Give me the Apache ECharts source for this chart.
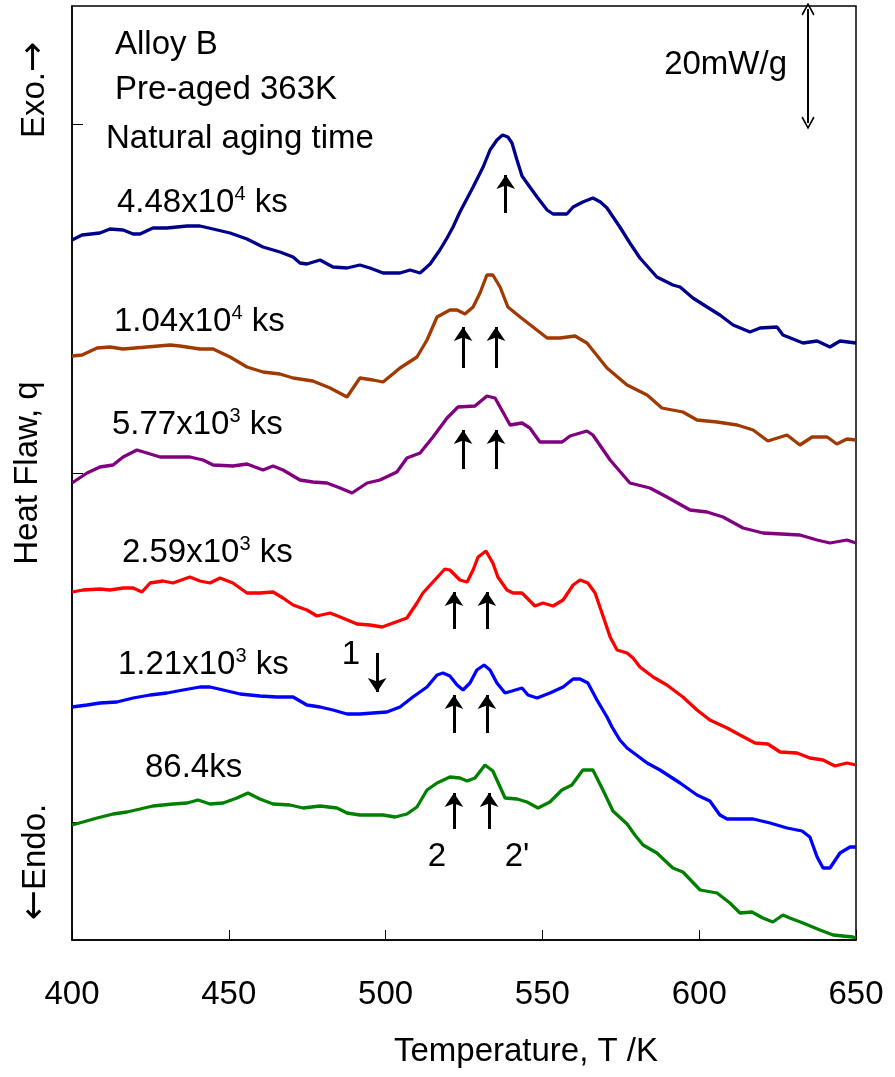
<!DOCTYPE html>
<html><head><meta charset="utf-8">
<script src="https://cdn.jsdelivr.net/npm/echarts@6/dist/echarts.min.js"></script>
<style>html,body{margin:0;padding:0;background:#fff}#c{width:895px;height:1077px}</style>
</head><body><div id="c"></div>
<script>
// Heat flow in arbitrary units (a.u.), curves offset as in the original figure
const xTicks = [400, 450, 500, 550, 600, 650];
const yTickValues = [118, 467, 816];
const seriesNames = ['4.48x10^4 ks', '1.04x10^4 ks', '5.77x10^3 ks', '2.59x10^3 ks', '1.21x10^3 ks', '86.4ks'];
const seriesColors = ['#00008b', '#a03a02', '#800080', '#ff0000', '#0000ff', '#008000'];

const na44800 = [[400,700],[403.2,705],[408.9,707],[412.1,711],[416.3,710],[419.5,706],[421.7,706],[425.8,712],[430.3,712],[436.7,714],[440.8,714],[445,711],[450.4,707],[455.8,701],[460.9,693],[466.3,688],[470.5,683],[472.7,677],[474.9,676],[479.1,680],[483.2,673],[487.7,672],[491.8,675],[495,672],[499.2,667],[504.6,667],[507.8,670],[511,667],[514.2,676],[517.3,690],[519.6,702],[521.5,713],[523.7,728],[527.9,753],[531.1,773],[533.3,790],[535.5,800],[537.3,805],[539,803],[540.3,797],[541.9,780],[543.5,764],[546,753],[548.3,743],[551.5,730],[553.4,726],[557.8,726],[559.8,733],[562.9,738],[566.1,742],[568.5,738],[570.6,732],[574.7,713],[577.9,697],[581.1,682],[586.5,663],[591.6,655],[593.9,653],[598,642],[602.5,633],[606.6,625],[610.8,615],[616.2,608],[619.4,612],[624.8,613],[626.7,605],[633.1,597],[637.6,599],[641.7,593],[644.9,599],[650,597]];

const na10400 = [[400,584],[403.2,585],[408,592],[412.1,593],[416.3,591],[423.9,593],[431.3,595],[434.4,594],[440.8,591],[445,591],[450.4,583],[455.8,573],[460.9,568],[466.3,566],[470.5,562],[476.8,559],[482.3,552],[487.7,543],[491.8,562],[496,560],[499.2,558],[504.6,572],[510,583],[513.2,600],[516.4,623],[520.5,630],[522.8,630],[525.3,626],[527.9,633],[530.1,647],[532.3,665],[534.2,665],[536.5,653],[539,633],[542.9,623],[547,613],[551.5,602],[555.6,602],[560.4,604],[564.2,597],[570.6,572],[577,555],[583.4,545],[588.1,532],[594.8,528],[599.3,520],[605.7,518],[612.1,515],[617.2,510],[621.9,499],[628,505],[632.1,495],[636,503],[640.8,503],[643.9,496],[647.1,501],[650,500]];

const na5770 = [[400,457],[404.8,467],[408.9,473],[413.1,475],[416.3,483],[420.7,490],[423.9,487],[428.1,483],[433.5,483],[437.6,483],[441.8,480],[445,475],[451.3,474],[455.8,476],[460.9,470],[464.1,474],[467.3,470],[472.7,460],[476.8,458],[481.3,457],[485.5,452],[489.3,447],[494.1,457],[498.2,460],[503.6,468],[506.8,482],[511,487],[515.1,503],[519.6,522],[523.1,533],[528.5,534],[532.3,544],[534.9,542],[537.4,528],[539.7,515],[543.5,517],[546,512],[549.2,498],[556.3,498],[558.8,504],[564.2,509],[566.1,505],[571.6,480],[577.9,457],[584.3,452],[589.7,443],[597.1,430],[602.5,428],[607.6,423],[614,412],[620.3,407],[632.1,405],[637.6,400],[641.7,397],[647.1,400],[650,397]];

const na2590 = [[400,348],[403.5,350],[408.9,351],[412.1,350],[416.3,352],[419.5,352],[422.3,348],[424.9,357],[429,359],[432.2,357],[437.6,363],[440.8,359],[444,357],[447.2,362],[451.3,357],[455.8,347],[459.9,347],[464.1,348],[467.3,342],[470.5,335],[474.9,330],[478.1,324],[482.3,327],[485.5,323],[490.9,316],[495,315],[498.9,313],[502.4,317],[506.8,322],[510,337],[511.9,347],[515.1,358],[518.9,371],[520.5,370],[523.7,360],[526,358],[527.9,370],[529.5,383],[532,389],[534.2,377],[535.8,363],[538.7,350],[540.6,347],[543.5,347],[545.1,342],[547.6,334],[550.2,337],[553.4,334],[556.6,340],[559.8,355],[562,360],[564.5,357],[566.8,347],[569,327],[571.6,303],[573.8,290],[577,287],[578.9,282],[581.1,273],[585.3,263],[589.7,255],[594.8,243],[599.3,230],[603.4,220],[608.9,212],[613,205],[617.8,197],[621.9,196],[625.8,188],[631.2,187],[635.3,182],[639.5,180],[643.3,174],[647.1,177],[650,175]];

const na1210 = [[400,233],[404.8,235],[408.9,237],[414.3,238],[419.5,242],[424.9,245],[430.3,247],[435.4,250],[440.8,253],[444,253],[448.2,250],[453.6,246],[459.9,244],[465.4,243],[470.5,243],[474.9,235],[479.1,233],[483.2,230],[487.7,226],[491.8,226],[496,227],[500.4,228],[504.6,233],[508.7,243],[513.2,253],[516.4,265],[518.3,267],[520.5,264],[522.8,255],[524.7,250],[526.9,257],[529.1,270],[531.4,275],[533.3,270],[535.5,257],[538.1,247],[540.3,249],[543.5,252],[545.4,245],[548.3,242],[552.4,247],[556.6,253],[559.8,261],[562,261],[564.5,257],[567.4,240],[570.6,223],[572.2,213],[574.7,200],[577,192],[583.4,177],[587.5,170],[593.9,157],[599.3,145],[603.4,139],[606.6,125],[608.9,121],[617.2,121],[622.6,117],[628,112],[632.8,109],[635.3,103],[637.6,83],[639.5,72],[641.7,72],[644.9,87],[648.1,93],[650,93]];

const na86_4 = [[400,115],[403.5,118],[408,122],[413.1,126],[417.5,128],[421.7,131],[425.8,134],[432.2,136],[436.7,137],[440.2,140],[444,136],[448.2,137],[452.6,142],[456.1,147],[459.9,141],[464.1,136],[469.5,135],[473.7,132],[479.1,134],[484.5,132],[487.7,127],[491.8,125],[499.2,125],[503,123],[506.8,126],[510,133],[513.2,150],[516.4,157],[520.5,163],[523.7,162],[526,159],[528.5,162],[531.7,175],[534.2,169],[538.1,142],[541.9,141],[545.1,138],[548.6,132],[552.4,138],[556.2,150],[559.4,155],[562.9,170],[566.1,170],[569.3,150],[572.5,129],[577,116],[579.5,105],[582.1,95],[586.5,87],[591.6,72],[594.8,68],[600.3,50],[605.7,47],[609.8,37],[613,27],[616.8,28],[620.3,22],[623.5,18],[626.7,25],[628.9,22],[633.1,17],[638.5,10],[642.7,5],[649,3],[650,2]];

const curves = [na44800, na10400, na5770, na2590, na1210, na86_4];

// annotation arrows: [T, tail, head]
const peakArrows = [[538.3,727,765],[524.7,572,613],[535.2,572,613],[524.7,471,510],[535.2,471,510],[521.8,311,348],[532.3,311,348],[521.8,207,245],[532.3,207,245],[521.8,111,147],[533,111,147],[497.3,287,248]];
const scaleBar = [634.7, 817, 931];

const fam = '"Liberation Sans", Arial, Helvetica, sans-serif';
const chart = echarts.init(document.getElementById('c'));

function txt(x, y, text, extra) {
  const st = Object.assign({text: text, fill: '#000', font: '33px ' + fam, textAlign: 'left', textVerticalAlign: 'middle', align: 'left', verticalAlign: 'middle'}, extra || {});
  return {type: 'text', x: x, y: y, silent: true, style: st};
}
function supTxt(x, y, base, sup) {
  return {type: 'text', x: x, y: y, silent: true, style: {
    text: '{a|' + base + '}{s|' + sup + '}{a| ks}', fill: '#000', textAlign: 'left', textVerticalAlign: 'middle', align: 'left', verticalAlign: 'middle',
    rich: {a: {fontSize: 33, fontFamily: fam, fill: '#000', lineHeight: 38}, s: {fontSize: 20, fontFamily: fam, fill: '#000', verticalAlign: 'top', lineHeight: 20}}
  }};
}
function arrowTxt(x, y, text) {
  return {type: 'text', x: x, y: y, rotation: Math.PI / 2, silent: true, style: {
    text: text, fill: '#000', textAlign: 'center', textVerticalAlign: 'middle', align: 'center', verticalAlign: 'middle',
    rich: {a: {fontSize: 33, fontFamily: fam, fill: '#000', lineHeight: 38}, r: {fontSize: 36, fontFamily: '"DejaVu Sans", sans-serif', fill: '#000', lineHeight: 38}}
  }};
}

const series = curves.map((d, i) => ({
  name: seriesNames[i], type: 'line', data: d, showSymbol: false, symbol: 'none', smooth: false,
  lineStyle: {color: seriesColors[i], width: 3.3}, itemStyle: {color: seriesColors[i]}, silent: true, z: 3
}));
series.push({
  type: 'line', data: [], silent: true, z: 4,
  markLine: {silent: true, animation: false, symbol: ['none', 'arrow'], symbolSize: 14, label: {show: false},
    lineStyle: {color: '#000', width: 3, type: 'solid'},
    data: peakArrows.map(a => [{coord: [a[0], a[1]]}, {coord: [a[0], a[2]]}])}
});
series.push({
  type: 'line', data: [], silent: true, z: 4,
  markLine: {silent: true, animation: false,
    symbol: ['path://M5,0 L10,9 L9,10 L5,2.5 L1,10 L0,9 Z', 'path://M5,0 L10,9 L9,10 L5,2.5 L1,10 L0,9 Z'], symbolSize: 13, label: {show: false},
    lineStyle: {color: '#000', width: 2, type: 'solid'},
    data: [[{coord: [scaleBar[0], scaleBar[1]]}, {coord: [scaleBar[0], scaleBar[2]]}]]}
});

chart.setOption({
  animation: false,
  backgroundColor: '#fff',
  grid: {left: 72, top: 6, right: 39, bottom: 137, show: true, borderColor: '#000', borderWidth: 1.5, backgroundColor: 'transparent'},
  xAxis: {
    type: 'value', min: 400, max: 650, interval: 50,
    name: 'Temperature, T /K', nameLocation: 'middle', nameGap: 95,
    nameTextStyle: {fontSize: 33, fontFamily: fam, color: '#000', padding: [0, 0, 0, 124]},
    axisLine: {show: true, lineStyle: {color: '#000', width: 1.5}},
    axisTick: {show: true, inside: true, length: 10, lineStyle: {color: '#000', width: 1}},
    axisLabel: {fontSize: 33, fontFamily: fam, color: '#000', margin: 38, formatter: v => xTicks.includes(v) ? String(v) : ''},
    splitLine: {show: false}
  },
  yAxis: {
    type: 'value', min: 0, max: 934, interval: 934,
    name: 'Heat Flaw, q', nameLocation: 'middle', nameGap: 28, nameRotate: 90,
    nameTextStyle: {fontSize: 33, fontFamily: fam, color: '#000'},
    axisLine: {show: true, lineStyle: {color: '#000', width: 1.5}},
    axisTick: {show: true, inside: true, length: 11, customValues: yTickValues, lineStyle: {color: '#000', width: 1}},
    axisLabel: {show: false},
    splitLine: {show: false}
  },
  graphic: [
    txt(115, 45, 'Alloy B'),
    txt(115, 90, 'Pre-aged 363K'),
    txt(106, 139, 'Natural aging time'),
    supTxt(117, 203, '4.48x10', '4'),
    supTxt(114, 322, '1.04x10', '4'),
    supTxt(112, 425, '5.77x10', '3'),
    supTxt(122, 553, '2.59x10', '3'),
    supTxt(118, 665, '1.21x10', '3'),
    txt(145, 768, '86.4ks'),
    txt(787, 65, '20mW/g', {textAlign: 'right', align: 'right'}),
    txt(351, 655, '1', {textAlign: 'center', align: 'center'}),
    txt(437, 857, '2', {textAlign: 'center', align: 'center'}),
    txt(517, 857, "2'", {textAlign: 'center', align: 'center'}),
    arrowTxt(35, 90, '{a|Exo.}{r|\u2192}'),
    arrowTxt(36, 862, '{r|\u2190}{a|Endo.}')
  ],
  series: series
});
</script>
</body></html>
